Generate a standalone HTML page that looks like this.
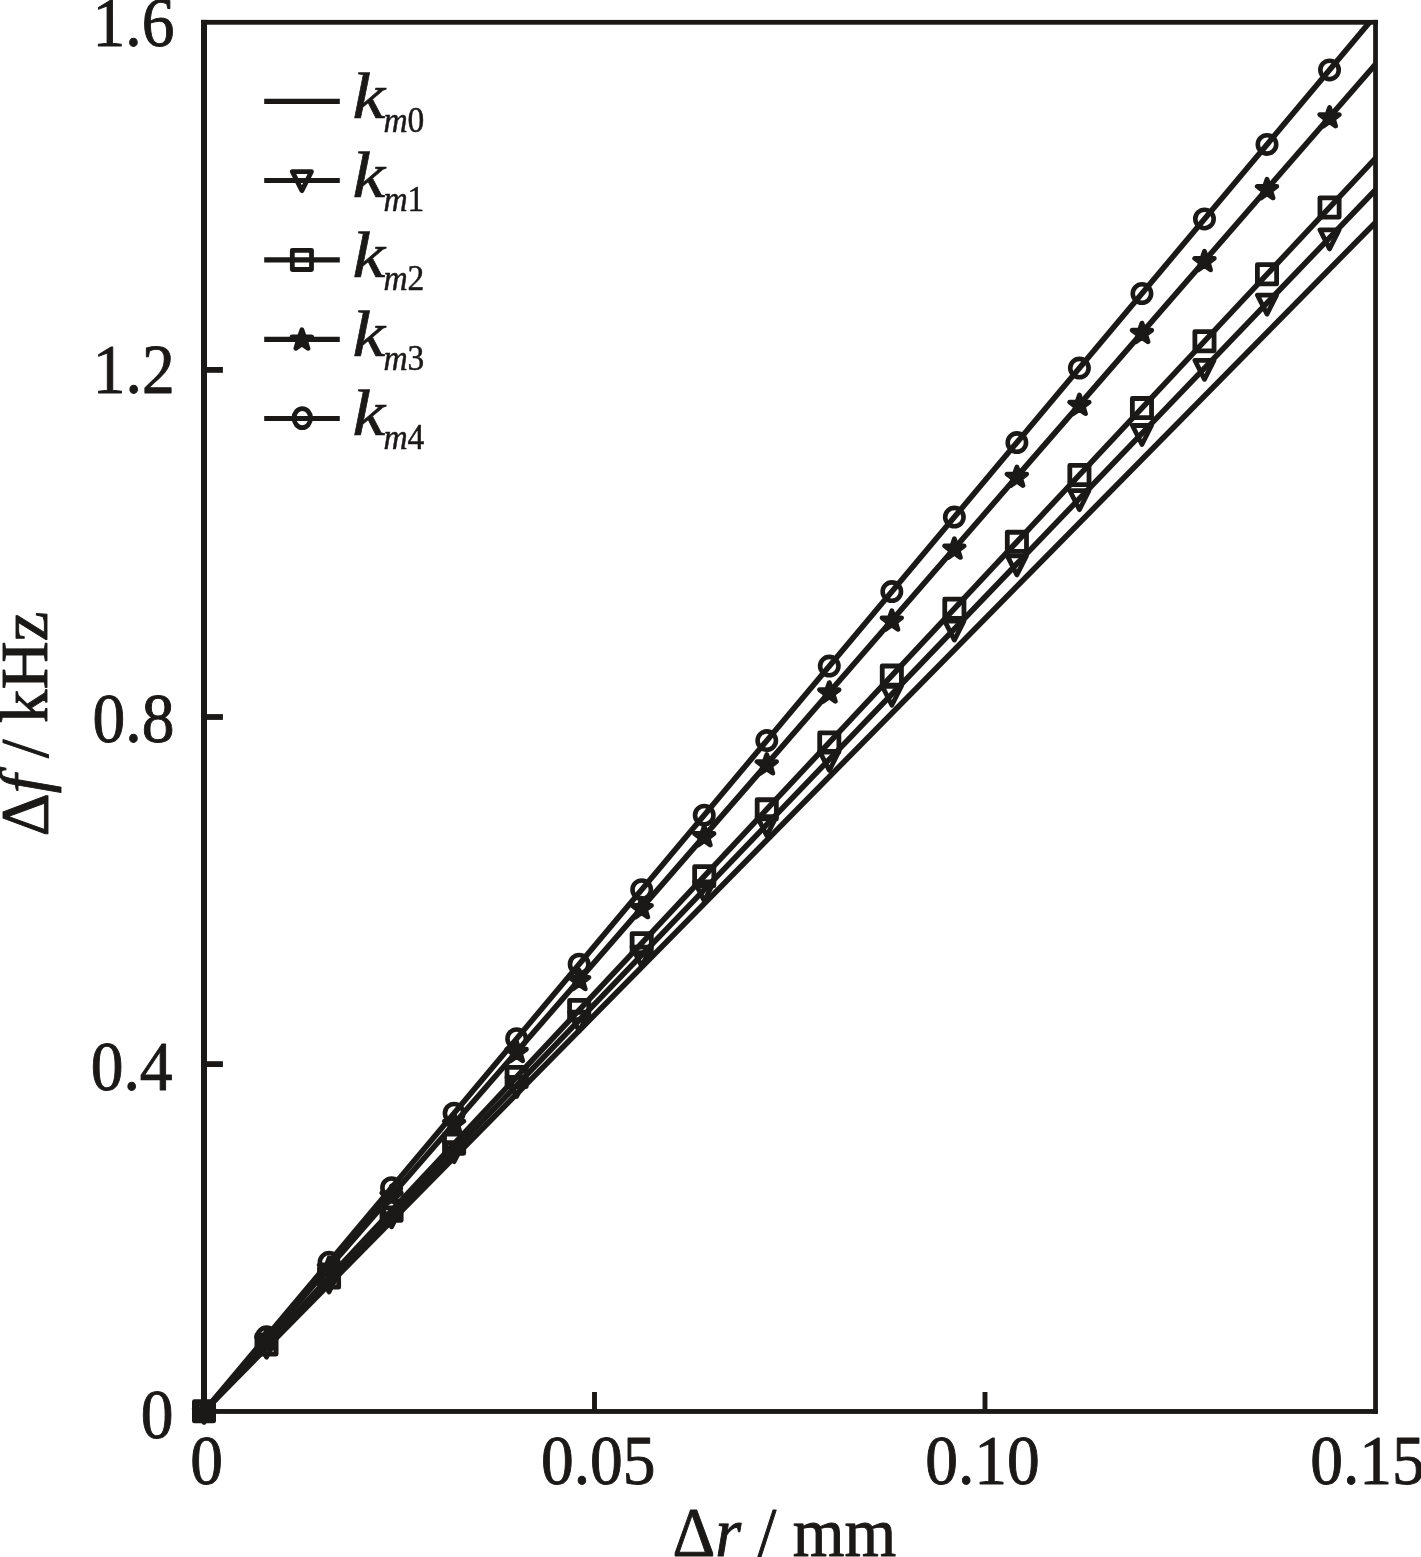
<!DOCTYPE html>
<html lang="en"><head><meta charset="utf-8"><title>Δf – Δr chart</title>
<style>html,body{margin:0;padding:0;background:#fff}body{width:1421px;height:1557px;overflow:hidden}svg{display:block}text{font-family:"Liberation Serif","Times New Roman",serif;fill:#1b1918}</style></head><body>
<svg width="1421" height="1557" viewBox="0 0 1421 1557">
<rect width="1421" height="1557" fill="#fff"/>
<defs><clipPath id="plot"><rect x="204.0" y="22.5" width="1171.4" height="1408.8"/></clipPath></defs>
<g clip-path="url(#plot)" stroke="#1b1918" stroke-width="5.6" fill="none">
<line x1="204.00" y1="1411.30" x2="1391.02" y2="206.72"/>
<line x1="204.00" y1="1411.30" x2="1391.02" y2="173.74"/>
<line x1="204.00" y1="1411.30" x2="1391.02" y2="141.68"/>
<line x1="204.00" y1="1411.30" x2="1391.02" y2="46.42"/>
<line x1="204.00" y1="1411.30" x2="1391.02" y2="-3.32"/>
</g>
<g>
<path d="M194.45 1403.40L213.55 1403.40L204.00 1422.40Z" fill="none" stroke="#1b1918" stroke-width="4.80" stroke-linejoin="round"/>
<path d="M256.98 1338.21L276.08 1338.21L266.53 1357.21Z" fill="none" stroke="#1b1918" stroke-width="4.80" stroke-linejoin="round"/>
<path d="M319.51 1273.02L338.61 1273.02L329.06 1292.02Z" fill="none" stroke="#1b1918" stroke-width="4.80" stroke-linejoin="round"/>
<path d="M382.04 1207.82L401.14 1207.82L391.59 1226.82Z" fill="none" stroke="#1b1918" stroke-width="4.80" stroke-linejoin="round"/>
<path d="M444.57 1142.63L463.67 1142.63L454.12 1161.63Z" fill="none" stroke="#1b1918" stroke-width="4.80" stroke-linejoin="round"/>
<path d="M507.10 1077.44L526.20 1077.44L516.65 1096.44Z" fill="none" stroke="#1b1918" stroke-width="4.80" stroke-linejoin="round"/>
<path d="M569.63 1012.25L588.73 1012.25L579.18 1031.25Z" fill="none" stroke="#1b1918" stroke-width="4.80" stroke-linejoin="round"/>
<path d="M632.16 947.05L651.26 947.05L641.71 966.05Z" fill="none" stroke="#1b1918" stroke-width="4.80" stroke-linejoin="round"/>
<path d="M694.69 881.86L713.79 881.86L704.24 900.86Z" fill="none" stroke="#1b1918" stroke-width="4.80" stroke-linejoin="round"/>
<path d="M757.22 816.67L776.32 816.67L766.77 835.67Z" fill="none" stroke="#1b1918" stroke-width="4.80" stroke-linejoin="round"/>
<path d="M819.75 751.48L838.85 751.48L829.30 770.48Z" fill="none" stroke="#1b1918" stroke-width="4.80" stroke-linejoin="round"/>
<path d="M882.28 686.28L901.38 686.28L891.83 705.28Z" fill="none" stroke="#1b1918" stroke-width="4.80" stroke-linejoin="round"/>
<path d="M944.81 621.09L963.91 621.09L954.36 640.09Z" fill="none" stroke="#1b1918" stroke-width="4.80" stroke-linejoin="round"/>
<path d="M1007.34 555.90L1026.44 555.90L1016.89 574.90Z" fill="none" stroke="#1b1918" stroke-width="4.80" stroke-linejoin="round"/>
<path d="M1069.87 490.71L1088.97 490.71L1079.42 509.71Z" fill="none" stroke="#1b1918" stroke-width="4.80" stroke-linejoin="round"/>
<path d="M1132.40 425.51L1151.50 425.51L1141.95 444.51Z" fill="none" stroke="#1b1918" stroke-width="4.80" stroke-linejoin="round"/>
<path d="M1194.93 360.32L1214.03 360.32L1204.48 379.32Z" fill="none" stroke="#1b1918" stroke-width="4.80" stroke-linejoin="round"/>
<path d="M1257.46 295.13L1276.56 295.13L1267.01 314.13Z" fill="none" stroke="#1b1918" stroke-width="4.80" stroke-linejoin="round"/>
<path d="M1319.99 229.94L1339.09 229.94L1329.54 248.94Z" fill="none" stroke="#1b1918" stroke-width="4.80" stroke-linejoin="round"/>
</g>
<g>
<rect x="194.40" y="1401.70" width="19.20" height="19.20" fill="none" stroke="#1b1918" stroke-width="4.80" stroke-linejoin="round"/>
<rect x="256.93" y="1334.82" width="19.20" height="19.20" fill="none" stroke="#1b1918" stroke-width="4.80" stroke-linejoin="round"/>
<rect x="319.46" y="1267.94" width="19.20" height="19.20" fill="none" stroke="#1b1918" stroke-width="4.80" stroke-linejoin="round"/>
<rect x="381.99" y="1201.06" width="19.20" height="19.20" fill="none" stroke="#1b1918" stroke-width="4.80" stroke-linejoin="round"/>
<rect x="444.52" y="1134.17" width="19.20" height="19.20" fill="none" stroke="#1b1918" stroke-width="4.80" stroke-linejoin="round"/>
<rect x="507.05" y="1067.29" width="19.20" height="19.20" fill="none" stroke="#1b1918" stroke-width="4.80" stroke-linejoin="round"/>
<rect x="569.58" y="1000.41" width="19.20" height="19.20" fill="none" stroke="#1b1918" stroke-width="4.80" stroke-linejoin="round"/>
<rect x="632.11" y="933.53" width="19.20" height="19.20" fill="none" stroke="#1b1918" stroke-width="4.80" stroke-linejoin="round"/>
<rect x="694.64" y="866.65" width="19.20" height="19.20" fill="none" stroke="#1b1918" stroke-width="4.80" stroke-linejoin="round"/>
<rect x="757.17" y="799.77" width="19.20" height="19.20" fill="none" stroke="#1b1918" stroke-width="4.80" stroke-linejoin="round"/>
<rect x="819.70" y="732.89" width="19.20" height="19.20" fill="none" stroke="#1b1918" stroke-width="4.80" stroke-linejoin="round"/>
<rect x="882.23" y="666.01" width="19.20" height="19.20" fill="none" stroke="#1b1918" stroke-width="4.80" stroke-linejoin="round"/>
<rect x="944.76" y="599.12" width="19.20" height="19.20" fill="none" stroke="#1b1918" stroke-width="4.80" stroke-linejoin="round"/>
<rect x="1007.29" y="532.24" width="19.20" height="19.20" fill="none" stroke="#1b1918" stroke-width="4.80" stroke-linejoin="round"/>
<rect x="1069.82" y="465.36" width="19.20" height="19.20" fill="none" stroke="#1b1918" stroke-width="4.80" stroke-linejoin="round"/>
<rect x="1132.35" y="398.48" width="19.20" height="19.20" fill="none" stroke="#1b1918" stroke-width="4.80" stroke-linejoin="round"/>
<rect x="1194.88" y="331.60" width="19.20" height="19.20" fill="none" stroke="#1b1918" stroke-width="4.80" stroke-linejoin="round"/>
<rect x="1257.41" y="264.72" width="19.20" height="19.20" fill="none" stroke="#1b1918" stroke-width="4.80" stroke-linejoin="round"/>
<rect x="1319.94" y="197.84" width="19.20" height="19.20" fill="none" stroke="#1b1918" stroke-width="4.80" stroke-linejoin="round"/>
</g>
<g>
<polygon points="204.00,1401.60 206.41,1408.58 213.80,1408.72 207.90,1413.17 210.05,1420.23 204.00,1416.00 197.95,1420.23 200.10,1413.17 194.20,1408.72 201.59,1408.58" fill="#1b1918" stroke="#1b1918" stroke-width="4.80" stroke-linejoin="round"/>
<polygon points="266.53,1329.70 268.94,1336.68 276.33,1336.82 270.43,1341.27 272.58,1348.33 266.53,1344.10 260.48,1348.33 262.63,1341.27 256.73,1336.82 264.12,1336.68" fill="#1b1918" stroke="#1b1918" stroke-width="4.80" stroke-linejoin="round"/>
<polygon points="329.06,1257.80 331.47,1264.78 338.86,1264.92 332.96,1269.37 335.11,1276.43 329.06,1272.20 323.01,1276.43 325.16,1269.37 319.26,1264.92 326.65,1264.78" fill="#1b1918" stroke="#1b1918" stroke-width="4.80" stroke-linejoin="round"/>
<polygon points="391.59,1185.90 394.00,1192.89 401.39,1193.02 395.49,1197.47 397.64,1204.53 391.59,1200.30 385.54,1204.53 387.69,1197.47 381.79,1193.02 389.18,1192.89" fill="#1b1918" stroke="#1b1918" stroke-width="4.80" stroke-linejoin="round"/>
<polygon points="454.12,1114.00 456.53,1120.99 463.92,1121.12 458.02,1125.57 460.17,1132.64 454.12,1128.40 448.07,1132.64 450.22,1125.57 444.32,1121.12 451.71,1120.99" fill="#1b1918" stroke="#1b1918" stroke-width="4.80" stroke-linejoin="round"/>
<polygon points="516.65,1042.10 519.06,1049.09 526.45,1049.22 520.55,1053.67 522.70,1060.74 516.65,1056.50 510.60,1060.74 512.75,1053.67 506.85,1049.22 514.24,1049.09" fill="#1b1918" stroke="#1b1918" stroke-width="4.80" stroke-linejoin="round"/>
<polygon points="579.18,970.20 581.59,977.19 588.98,977.32 583.08,981.77 585.23,988.84 579.18,984.60 573.13,988.84 575.28,981.77 569.38,977.32 576.77,977.19" fill="#1b1918" stroke="#1b1918" stroke-width="4.80" stroke-linejoin="round"/>
<polygon points="641.71,898.30 644.12,905.29 651.51,905.42 645.61,909.87 647.76,916.94 641.71,912.70 635.66,916.94 637.81,909.87 631.91,905.42 639.30,905.29" fill="#1b1918" stroke="#1b1918" stroke-width="4.80" stroke-linejoin="round"/>
<polygon points="704.24,826.41 706.65,833.39 714.04,833.52 708.14,837.97 710.29,845.04 704.24,840.81 698.19,845.04 700.34,837.97 694.44,833.52 701.83,833.39" fill="#1b1918" stroke="#1b1918" stroke-width="4.80" stroke-linejoin="round"/>
<polygon points="766.77,754.51 769.18,761.49 776.57,761.62 770.67,766.07 772.82,773.14 766.77,768.91 760.72,773.14 762.87,766.07 756.97,761.62 764.36,761.49" fill="#1b1918" stroke="#1b1918" stroke-width="4.80" stroke-linejoin="round"/>
<polygon points="829.30,682.61 831.71,689.59 839.10,689.72 833.20,694.17 835.35,701.24 829.30,697.01 823.25,701.24 825.40,694.17 819.50,689.72 826.89,689.59" fill="#1b1918" stroke="#1b1918" stroke-width="4.80" stroke-linejoin="round"/>
<polygon points="891.83,610.71 894.24,617.69 901.63,617.82 895.73,622.27 897.88,629.34 891.83,625.11 885.78,629.34 887.93,622.27 882.03,617.82 889.42,617.69" fill="#1b1918" stroke="#1b1918" stroke-width="4.80" stroke-linejoin="round"/>
<polygon points="954.36,538.81 956.77,545.79 964.16,545.93 958.26,550.38 960.41,557.44 954.36,553.21 948.31,557.44 950.46,550.38 944.56,545.93 951.95,545.79" fill="#1b1918" stroke="#1b1918" stroke-width="4.80" stroke-linejoin="round"/>
<polygon points="1016.89,466.91 1019.30,473.89 1026.69,474.03 1020.79,478.48 1022.94,485.54 1016.89,481.31 1010.84,485.54 1012.99,478.48 1007.09,474.03 1014.48,473.89" fill="#1b1918" stroke="#1b1918" stroke-width="4.80" stroke-linejoin="round"/>
<polygon points="1079.42,395.01 1081.83,401.99 1089.22,402.13 1083.32,406.58 1085.47,413.64 1079.42,409.41 1073.37,413.64 1075.52,406.58 1069.62,402.13 1077.01,401.99" fill="#1b1918" stroke="#1b1918" stroke-width="4.80" stroke-linejoin="round"/>
<polygon points="1141.95,323.11 1144.36,330.09 1151.75,330.23 1145.85,334.68 1148.00,341.74 1141.95,337.51 1135.90,341.74 1138.05,334.68 1132.15,330.23 1139.54,330.09" fill="#1b1918" stroke="#1b1918" stroke-width="4.80" stroke-linejoin="round"/>
<polygon points="1204.48,251.21 1206.89,258.19 1214.28,258.33 1208.38,262.78 1210.53,269.84 1204.48,265.61 1198.43,269.84 1200.58,262.78 1194.68,258.33 1202.07,258.19" fill="#1b1918" stroke="#1b1918" stroke-width="4.80" stroke-linejoin="round"/>
<polygon points="1267.01,179.31 1269.42,186.29 1276.81,186.43 1270.91,190.88 1273.06,197.94 1267.01,193.71 1260.96,197.94 1263.11,190.88 1257.21,186.43 1264.60,186.29" fill="#1b1918" stroke="#1b1918" stroke-width="4.80" stroke-linejoin="round"/>
<polygon points="1329.54,107.41 1331.95,114.40 1339.34,114.53 1333.44,118.98 1335.59,126.05 1329.54,121.81 1323.49,126.05 1325.64,118.98 1319.74,114.53 1327.13,114.40" fill="#1b1918" stroke="#1b1918" stroke-width="4.80" stroke-linejoin="round"/>
</g>
<g>
<circle cx="204.00" cy="1411.30" r="9.20" fill="none" stroke="#1b1918" stroke-width="4.60"/>
<circle cx="266.53" cy="1336.78" r="9.20" fill="none" stroke="#1b1918" stroke-width="4.60"/>
<circle cx="329.06" cy="1262.26" r="9.20" fill="none" stroke="#1b1918" stroke-width="4.60"/>
<circle cx="391.59" cy="1187.74" r="9.20" fill="none" stroke="#1b1918" stroke-width="4.60"/>
<circle cx="454.12" cy="1113.22" r="9.20" fill="none" stroke="#1b1918" stroke-width="4.60"/>
<circle cx="516.65" cy="1038.70" r="9.20" fill="none" stroke="#1b1918" stroke-width="4.60"/>
<circle cx="579.18" cy="964.18" r="9.20" fill="none" stroke="#1b1918" stroke-width="4.60"/>
<circle cx="641.71" cy="889.66" r="9.20" fill="none" stroke="#1b1918" stroke-width="4.60"/>
<circle cx="704.24" cy="815.14" r="9.20" fill="none" stroke="#1b1918" stroke-width="4.60"/>
<circle cx="766.77" cy="740.62" r="9.20" fill="none" stroke="#1b1918" stroke-width="4.60"/>
<circle cx="829.30" cy="666.10" r="9.20" fill="none" stroke="#1b1918" stroke-width="4.60"/>
<circle cx="891.83" cy="591.59" r="9.20" fill="none" stroke="#1b1918" stroke-width="4.60"/>
<circle cx="954.36" cy="517.07" r="9.20" fill="none" stroke="#1b1918" stroke-width="4.60"/>
<circle cx="1016.89" cy="442.55" r="9.20" fill="none" stroke="#1b1918" stroke-width="4.60"/>
<circle cx="1079.42" cy="368.03" r="9.20" fill="none" stroke="#1b1918" stroke-width="4.60"/>
<circle cx="1141.95" cy="293.51" r="9.20" fill="none" stroke="#1b1918" stroke-width="4.60"/>
<circle cx="1204.48" cy="218.99" r="9.20" fill="none" stroke="#1b1918" stroke-width="4.60"/>
<circle cx="1267.01" cy="144.47" r="9.20" fill="none" stroke="#1b1918" stroke-width="4.60"/>
<circle cx="1329.54" cy="69.95" r="9.20" fill="none" stroke="#1b1918" stroke-width="4.60"/>
</g>
<g fill="#1b1918">
<rect x="201" y="19.9" width="1176.9" height="4.8"/>
<rect x="1373.15" y="19.9" width="4.75" height="1394"/>
<rect x="201" y="1409.05" width="1176.9" height="4.85"/>
<rect x="201" y="19.9" width="6" height="1394"/>
<rect x="204" y="367.00" width="18.9" height="5.8"/>
<rect x="204" y="714.10" width="18.9" height="5.8"/>
<rect x="204" y="1061.20" width="18.9" height="5.8"/>
<rect x="592.05" y="1392" width="4.9" height="19"/>
<rect x="982.55" y="1392" width="4.9" height="19"/>
</g>
<g>
<text transform="translate(174.50,46.00) scale(0.985,1.045)" font-size="66.5" text-anchor="end" stroke="#1b1918" stroke-width="0.9" stroke-linejoin="round" >1.6</text>
<text transform="translate(174.70,393.40) scale(0.985,1.045)" font-size="66.5" text-anchor="end" stroke="#1b1918" stroke-width="0.9" stroke-linejoin="round" >1.2</text>
<text transform="translate(174.50,741.80) scale(0.985,1.045)" font-size="66.5" text-anchor="end" stroke="#1b1918" stroke-width="0.9" stroke-linejoin="round" >0.8</text>
<text transform="translate(172.60,1089.60) scale(0.985,1.045)" font-size="66.5" text-anchor="end" stroke="#1b1918" stroke-width="0.9" stroke-linejoin="round" >0.4</text>
<text transform="translate(173.50,1437.80) scale(0.985,1.045)" font-size="66.5" text-anchor="end" stroke="#1b1918" stroke-width="0.9" stroke-linejoin="round" >0</text>
<text transform="translate(206.70,1484.40) scale(0.985,1.045)" font-size="66.5" text-anchor="middle" stroke="#1b1918" stroke-width="0.9" stroke-linejoin="round" >0</text>
<text transform="translate(598.30,1484.40) scale(0.985,1.045)" font-size="66.5" text-anchor="middle" stroke="#1b1918" stroke-width="0.9" stroke-linejoin="round" >0.05</text>
<text transform="translate(982.50,1484.40) scale(0.985,1.045)" font-size="66.5" text-anchor="middle" stroke="#1b1918" stroke-width="0.9" stroke-linejoin="round" >0.10</text>
<text transform="translate(1367.50,1484.40) scale(0.985,1.045)" font-size="66.5" text-anchor="middle" stroke="#1b1918" stroke-width="0.9" stroke-linejoin="round" >0.15</text>
<text transform="translate(672.40,1555.80) scale(1.000,1.045)" font-size="66.5" text-anchor="start" stroke="#1b1918" stroke-width="0.9" stroke-linejoin="round" >Δ<tspan font-style="italic">r</tspan> / mm</text>
<text transform="translate(46.60,836.30) rotate(-90) scale(1.004,1.020)" font-size="66.5" text-anchor="start" stroke="#1b1918" stroke-width="0.9" stroke-linejoin="round" >Δ<tspan font-style="italic">f</tspan> / kHz</text>
</g>
<g>
<line x1="264.2" y1="101.4" x2="339.8" y2="101.4" stroke="#1b1918" stroke-width="5.1"/>
<text transform="translate(352.60,118.30) scale(1.110,1.000)" font-size="66.3" text-anchor="start" stroke="#1b1918" stroke-width="0.7" stroke-linejoin="round" font-style="italic">k</text>
<text transform="translate(383.40,131.70) scale(1.000,1.040)" font-size="33.5" text-anchor="start" stroke="#1b1918" stroke-width="0.45" stroke-linejoin="round" ><tspan font-style="italic">m</tspan>0</text>
<line x1="264.2" y1="180.5" x2="339.8" y2="180.5" stroke="#1b1918" stroke-width="5.1"/>
<path d="M292.35 171.70L311.45 171.70L301.90 190.70Z" fill="none" stroke="#1b1918" stroke-width="4.80" stroke-linejoin="round"/>
<text transform="translate(352.60,197.40) scale(1.110,1.000)" font-size="66.3" text-anchor="start" stroke="#1b1918" stroke-width="0.7" stroke-linejoin="round" font-style="italic">k</text>
<text transform="translate(383.40,210.80) scale(1.000,1.040)" font-size="33.5" text-anchor="start" stroke="#1b1918" stroke-width="0.45" stroke-linejoin="round" ><tspan font-style="italic">m</tspan>1</text>
<line x1="264.2" y1="259.9" x2="339.8" y2="259.9" stroke="#1b1918" stroke-width="5.1"/>
<rect x="292.30" y="250.30" width="19.20" height="19.20" fill="none" stroke="#1b1918" stroke-width="4.80" stroke-linejoin="round"/>
<text transform="translate(352.60,276.80) scale(1.110,1.000)" font-size="66.3" text-anchor="start" stroke="#1b1918" stroke-width="0.7" stroke-linejoin="round" font-style="italic">k</text>
<text transform="translate(383.40,290.20) scale(1.000,1.040)" font-size="33.5" text-anchor="start" stroke="#1b1918" stroke-width="0.45" stroke-linejoin="round" ><tspan font-style="italic">m</tspan>2</text>
<line x1="264.2" y1="339.4" x2="339.8" y2="339.4" stroke="#1b1918" stroke-width="5.1"/>
<polygon points="301.90,329.70 304.31,336.68 311.70,336.82 305.80,341.27 307.95,348.33 301.90,344.10 295.85,348.33 298.00,341.27 292.10,336.82 299.49,336.68" fill="#1b1918" stroke="#1b1918" stroke-width="4.80" stroke-linejoin="round"/>
<text transform="translate(352.60,356.30) scale(1.110,1.000)" font-size="66.3" text-anchor="start" stroke="#1b1918" stroke-width="0.7" stroke-linejoin="round" font-style="italic">k</text>
<text transform="translate(383.40,369.70) scale(1.000,1.040)" font-size="33.5" text-anchor="start" stroke="#1b1918" stroke-width="0.45" stroke-linejoin="round" ><tspan font-style="italic">m</tspan>3</text>
<line x1="264.2" y1="418.5" x2="339.8" y2="418.5" stroke="#1b1918" stroke-width="5.1"/>
<ellipse cx="302.3" cy="418.10" rx="8.3" ry="9.55" fill="none" stroke="#1b1918" stroke-width="4.7"/>
<text transform="translate(352.60,435.40) scale(1.110,1.000)" font-size="66.3" text-anchor="start" stroke="#1b1918" stroke-width="0.7" stroke-linejoin="round" font-style="italic">k</text>
<text transform="translate(383.40,448.80) scale(1.000,1.040)" font-size="33.5" text-anchor="start" stroke="#1b1918" stroke-width="0.45" stroke-linejoin="round" ><tspan font-style="italic">m</tspan>4</text>
</g>
</svg></body></html>
